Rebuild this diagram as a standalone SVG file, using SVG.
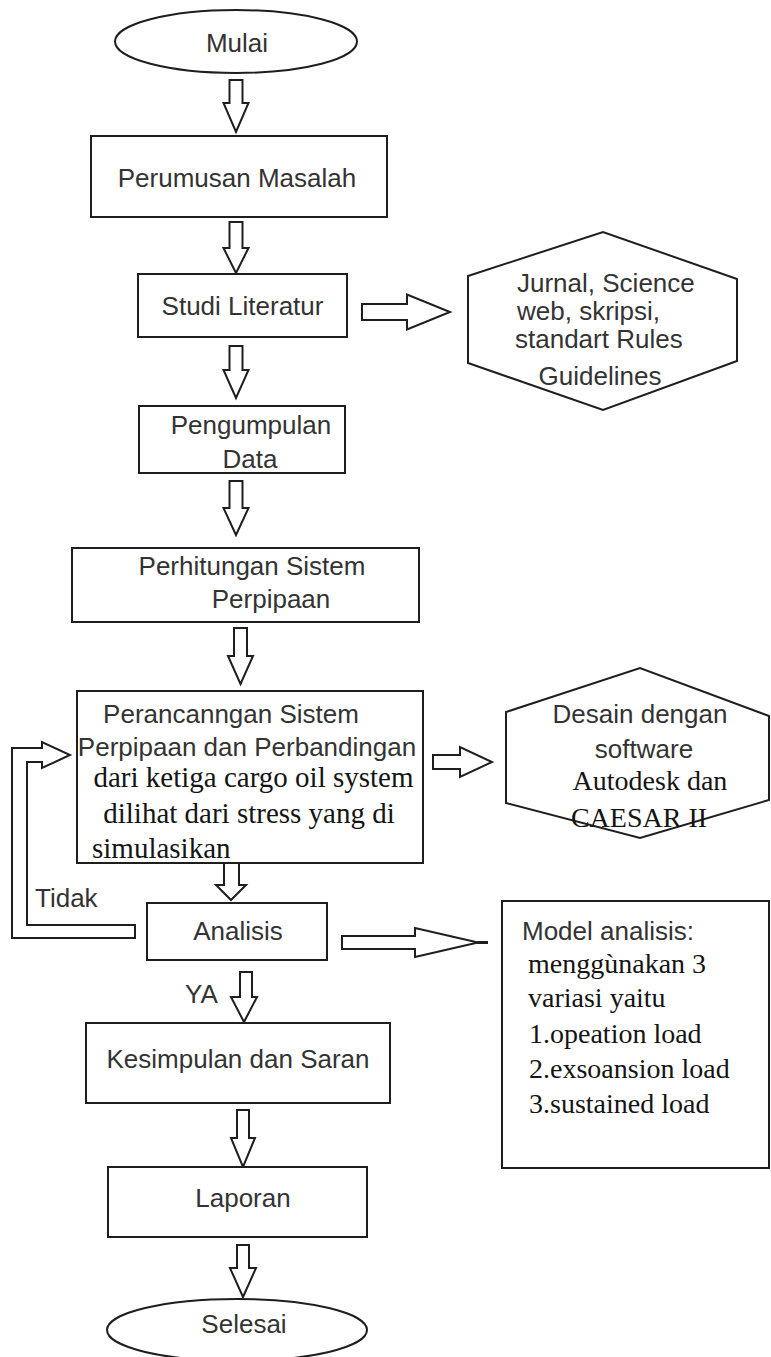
<svg xmlns="http://www.w3.org/2000/svg" width="771" height="1357" viewBox="0 0 771 1357">
<style>
.shape{fill:#ffffff;stroke:#1e1e1e;stroke-width:2}
.arr{fill:#ffffff;stroke:#1e1e1e;stroke-width:2;stroke-linejoin:miter}
.a{font-family:"Liberation Sans",Arial,sans-serif;font-size:26px;fill:#333333}
.am{font-family:"Liberation Sans",Arial,sans-serif;font-size:26px;fill:#333333;text-anchor:middle}
.t{font-family:"Liberation Serif","Times New Roman",serif;font-size:28px;fill:#141414}
.tm{font-family:"Liberation Serif","Times New Roman",serif;font-size:28px;fill:#141414;text-anchor:middle}
.big{font-size:29px}
</style>
<rect width="771" height="1357" fill="#ffffff"/>

<g id="connectors">
  <polygon class="arr" points="229.5,80 242.5,80 242.5,103 248.5,103 236,132 223.5,103 229.5,103"/>
  <polygon class="arr" points="229.5,222 242.5,222 242.5,248 248.5,248 236,273 223.5,248 229.5,248"/>
  <polygon class="arr" points="229.5,346 242.5,346 242.5,370 248.5,370 236,398 223.5,370 229.5,370"/>
  <polygon class="arr" points="229.5,481 242.5,481 242.5,508 248.5,508 236,535 223.5,508 229.5,508"/>
  <polygon class="arr" points="234,628 247,628 247,656 253,656 240.5,684 228,656 234,656"/>
  <polygon class="arr" points="224,863 239,863 239,885 246,885 231,900 216,885 224,885"/>
  <polygon class="arr" points="240,972 252,972 252,997 257,997 244,1022 231,997 240,997"/>
  <polygon class="arr" points="237,1110 249,1110 249,1138 255,1138 243,1167 231,1138 237,1138"/>
  <polygon class="arr" points="237,1245 249,1245 249,1268 256,1268 243,1297 230,1268 237,1268"/>
  <polygon class="arr" points="362,304 407,304 407,294.5 450,312 407,329.5 407,320 362,320"/>
  <polygon class="arr" points="433,755 460,755 460,747 492,762 460,777 460,769 433,769"/>
  <polygon class="arr" points="342,936 415,936 415,928 478,942.5 415,957 415,949 342,949"/>
  <line x1="477" y1="942.5" x2="488" y2="942.5" stroke="#1e1e1e" stroke-width="3"/>
  <polygon class="arr" points="135,925 27,925 27,762 42,762 42,768 70,755 42,742 42,748 12,748 12,938 135,938"/>
  <text class="a" x="35" y="907">Tidak</text>
  <text class="a" x="185" y="1003">YA</text>
</g>

<g id="mulai">
  <ellipse class="shape" cx="236" cy="41.5" rx="121" ry="31.5"/>
  <text class="am" x="237" y="52">Mulai</text>
</g>

<g id="perumusan">
  <rect class="shape" x="91" y="136" width="296" height="81"/>
  <text class="am" x="237" y="187">Perumusan Masalah</text>
</g>

<g id="studi">
  <rect class="shape" x="138" y="274" width="209" height="63"/>
  <text class="am" x="242.5" y="315">Studi Literatur</text>
</g>

<g id="jurnal">
  <polygon class="shape" points="468,276 603,232 737,279 737,361 603,410 468,363"/>
  <text class="a" x="517" y="292">Jurnal, Science</text>
  <text class="a" x="517" y="320">web, skripsi,</text>
  <text class="a" x="515" y="348">standart Rules</text>
  <text class="am" x="600" y="385">Guidelines</text>
</g>

<g id="pengumpulan">
  <rect class="shape" x="139" y="406" width="206" height="67"/>
  <text class="am" x="251" y="434">Pengumpulan</text>
  <text class="am" x="250" y="468">Data</text>
</g>

<g id="perhitungan">
  <rect class="shape" x="72" y="548" width="347" height="74"/>
  <text class="am" x="252" y="575">Perhitungan Sistem</text>
  <text class="am" x="271" y="608">Perpipaan</text>
</g>

<g id="perancangan">
  <rect class="shape" x="77" y="691" width="346" height="172"/>
  <text class="am" x="231" y="723">Perancanngan Sistem</text>
  <text class="am" x="247" y="756">Perpipaan dan Perbandingan</text>
  <text class="tm big" x="253.5" y="787">dari ketiga cargo oil system</text>
  <text class="tm big" x="249" y="823">dilihat dari stress yang di</text>
  <text class="t big" x="92" y="858">simulasikan</text>
</g>

<g id="desain">
  <polygon class="shape" points="506,712 640,668 769,716 769,800 640,838 506,803"/>
  <text class="am" x="640" y="723">Desain dengan</text>
  <text class="am" x="644" y="758">software</text>
  <text class="tm" x="650" y="790">Autodesk dan</text>
  <text class="tm" x="639" y="827">CAESAR II</text>
</g>

<g id="analisis">
  <rect class="shape" x="147" y="903" width="180" height="57"/>
  <text class="am" x="238" y="940">Analisis</text>
</g>

<g id="model">
  <rect class="shape" x="502" y="901" width="267" height="267"/>
  <text class="a" x="522" y="940">Model analisis:</text>
  <text class="t" x="528" y="973">menggùnakan 3</text>
  <text class="t" x="528" y="1007">variasi yaitu</text>
  <text class="t" x="529" y="1043">1.opeation load</text>
  <text class="t" x="529" y="1078">2.exsoansion load</text>
  <text class="t" x="529" y="1113">3.sustained load</text>
</g>

<g id="kesimpulan">
  <rect class="shape" x="86" y="1023" width="304" height="80"/>
  <text class="am" x="238" y="1068">Kesimpulan dan Saran</text>
</g>

<g id="laporan">
  <rect class="shape" x="108" y="1167" width="259" height="70"/>
  <text class="am" x="243" y="1207">Laporan</text>
</g>

<g id="selesai">
  <ellipse class="shape" cx="237" cy="1330" rx="130" ry="31"/>
  <text class="am" x="244" y="1333">Selesai</text>
</g>
</svg>
